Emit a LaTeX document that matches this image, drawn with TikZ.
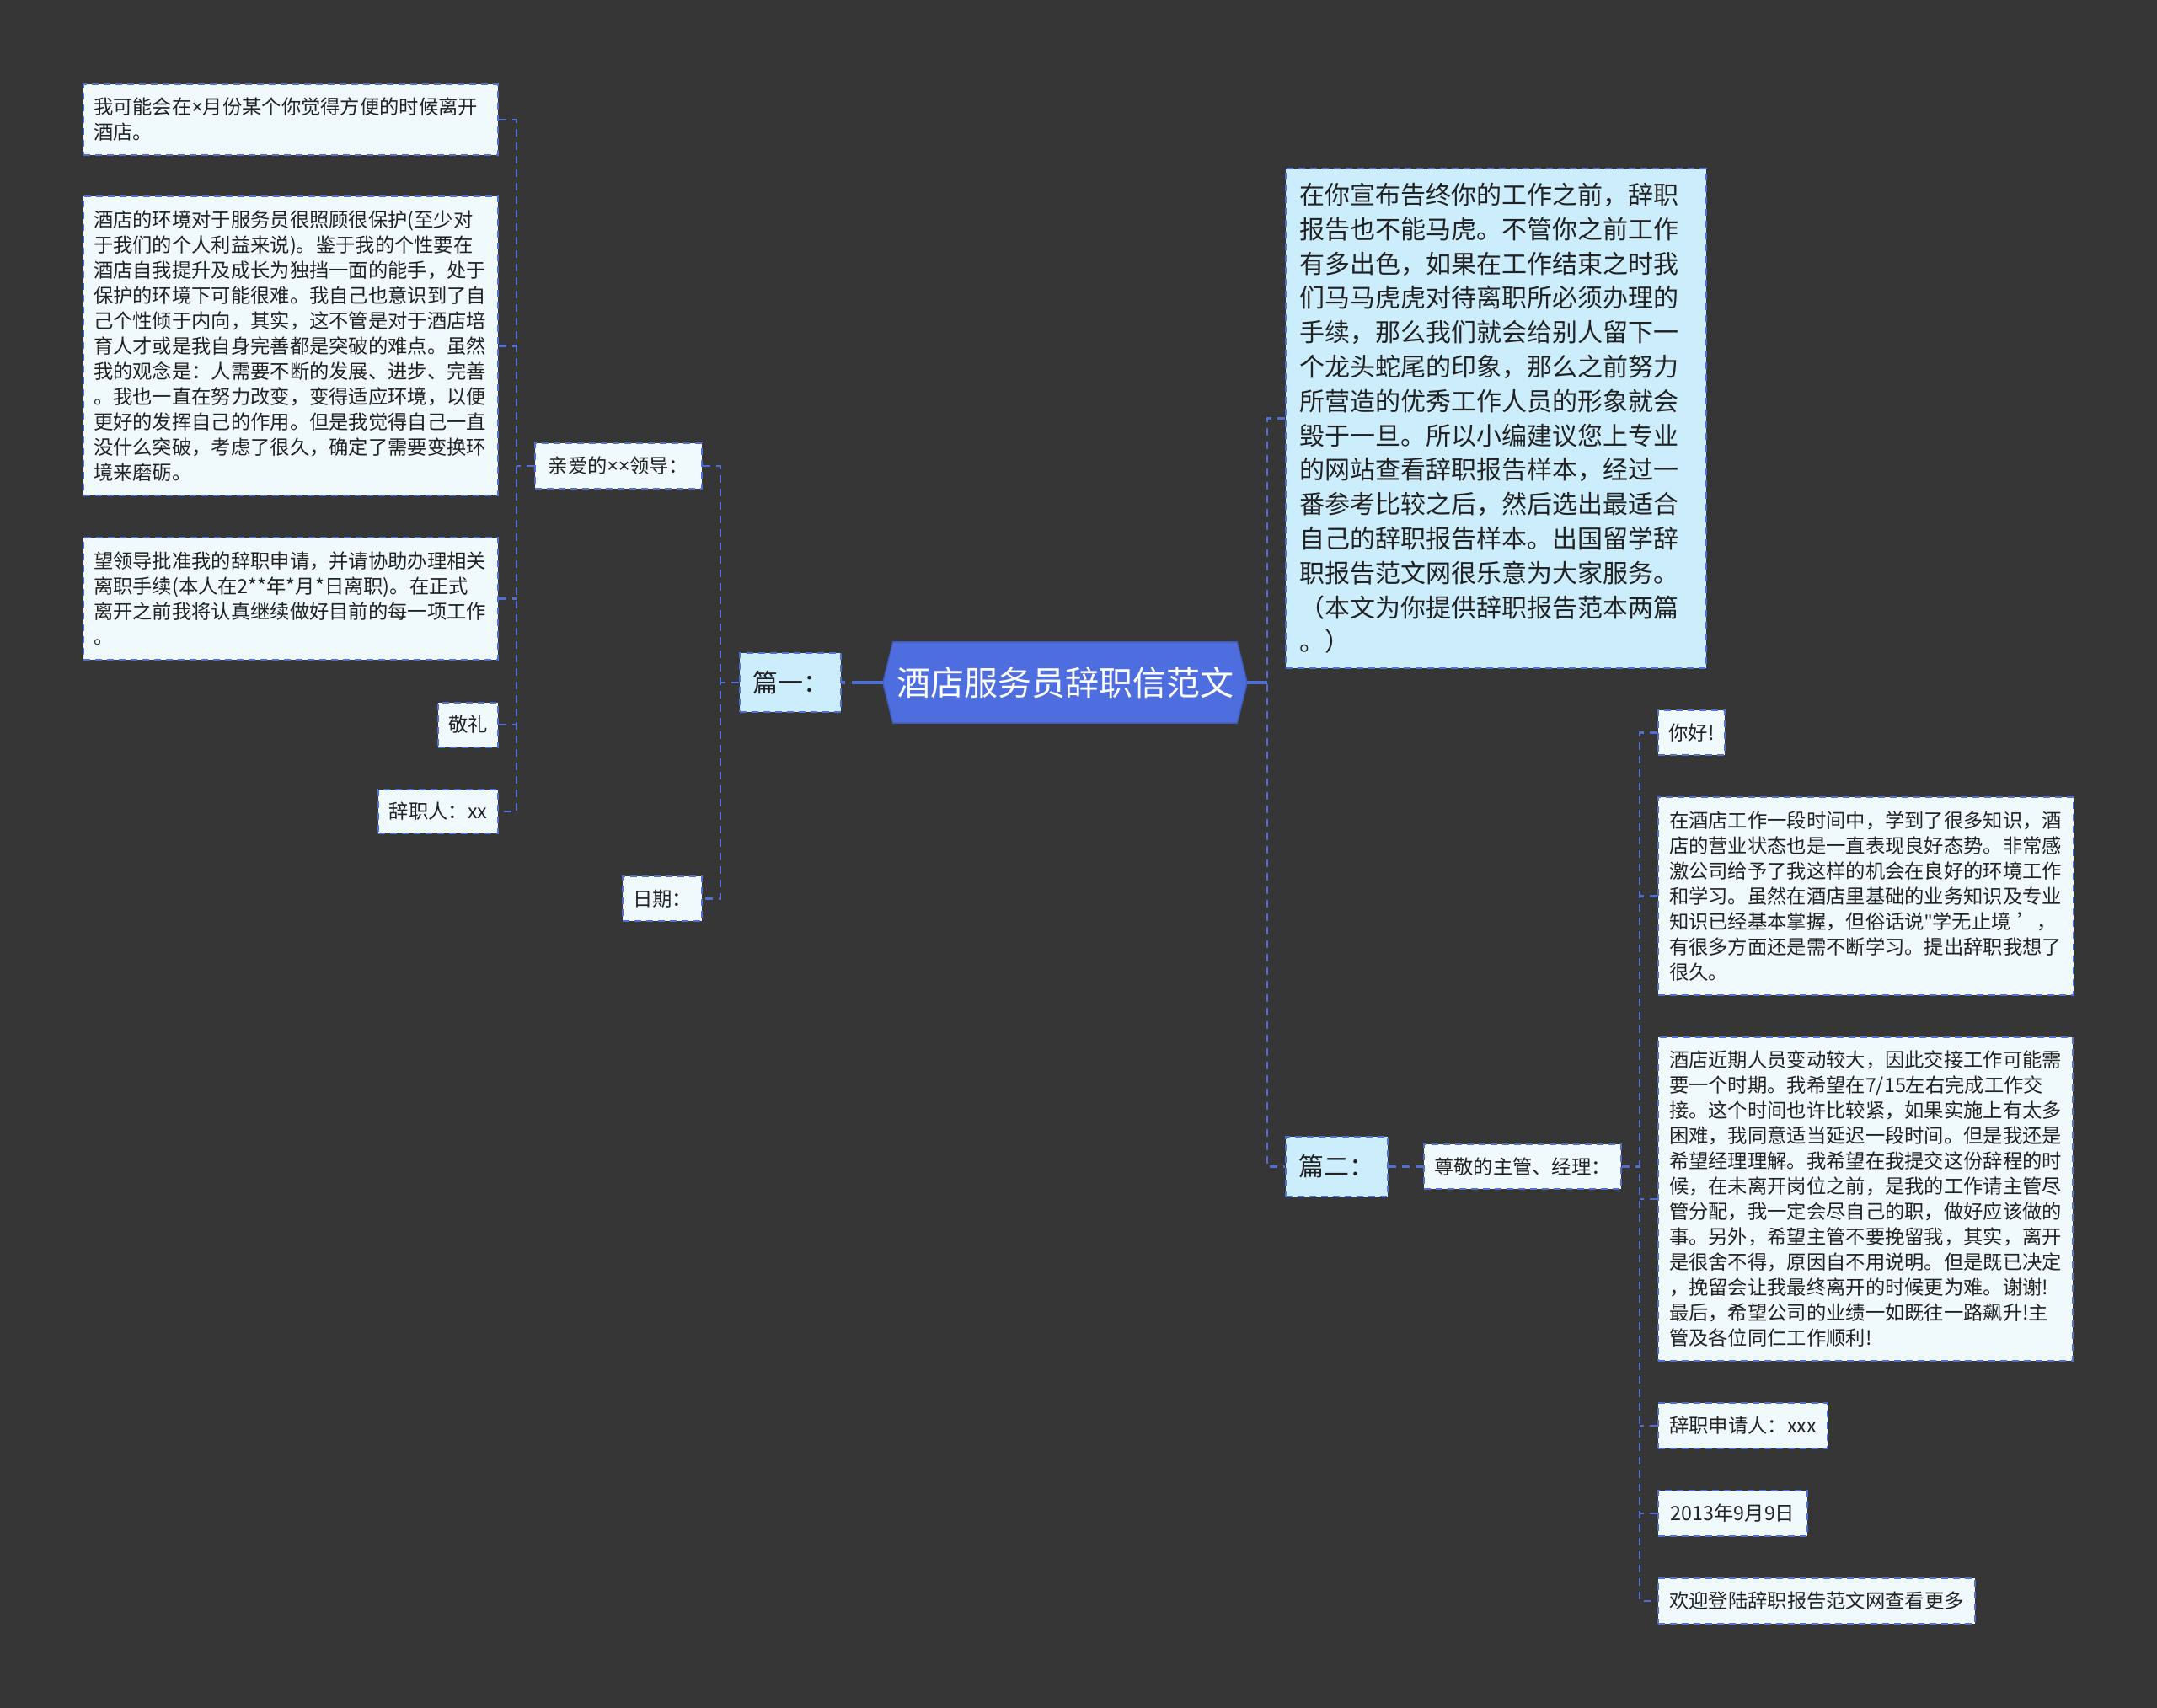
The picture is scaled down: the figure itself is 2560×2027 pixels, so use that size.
\documentclass[tikz,border=0pt]{standalone}
\usepackage{fontspec}
\setmainfont{Noto Sans CJK SC}
\newfontfamily\latinfont{Noto Sans}
\newcommand{\tms}{{\latinfont ×}}
\newcommand{\dqt}{{\latinfont\char34}}
\usetikzlibrary{calc}
\definecolor{bgc}{RGB}{55,54,55}
\definecolor{boxfill}{RGB}{240,250,253}
\definecolor{hifill}{RGB}{204,237,252}
\definecolor{linec}{RGB}{80,110,212}
\definecolor{rootfill}{RGB}{78,110,224}
\definecolor{txt}{RGB}{34,34,34}
\pgfdeclarelayer{bglayer}
\pgfsetlayers{bglayer,main}
\begin{document}
\begin{tikzpicture}[x=1pt,y=-1pt,
  box/.style={draw=linec, line width=2pt, dash pattern=on 8pt off 6pt, fill=boxfill, text=txt,
    inner xsep=12pt, inner ysep=0pt, font=\fontsize{23.3pt}{30pt}\selectfont},
  hibox/.style={box, fill=hifill},
  bigfont/.style={font=\fontsize{30pt}{40.8pt}\selectfont},
  conn/.style={draw=linec, line width=2.5pt, dash pattern=on 9pt off 7pt},
  rootconn/.style={draw=linec, line width=4pt, dash pattern=on 37pt off 8pt},
]
\begin{pgfonlayer}{bglayer}
\fill[bgc] (0,0) rectangle (2560,2027);
\end{pgfonlayer}
\useasboundingbox (0,0) rectangle (2560,2027);

% ---------- root ----------
\node[font=\fontsize{40pt}{48pt}\selectfont, text=white, minimum width=432pt, minimum height=96pt, inner sep=0pt] (root) at (1264,810) {酒店服务员辞职信范文};
\begin{pgfonlayer}{bglayer}
\filldraw[fill=rootfill, draw=rootfill!85!black, line width=1.5pt]
  ([xshift=12pt]root.north west) -- ([xshift=-12pt]root.north east) -- (root.east)
  -- ([xshift=-12pt]root.south east) -- ([xshift=12pt]root.south west) -- (root.west) -- cycle;
\end{pgfonlayer}

% ---------- left branch ----------
\node[hibox, bigfont, minimum width=120pt, minimum height=70pt] (p1) at (938,810) {篇一：};
\node[box, anchor=east, minimum width=198pt, minimum height=54pt] (q1) at (834,553) {亲爱的\tms\tms 领导：};
\node[box, anchor=east, minimum width=93pt, minimum height=53pt] (date1) at (834,1066.5) {日期：};

\node[box, anchor=east, minimum width=492pt, minimum height=84pt, text width=468pt, align=left] (a1) at (592,142)
  {我可能会在\tms 月份某个你觉得方便的时候离开\\酒店。};
\node[box, anchor=east, minimum width=492pt, minimum height=355pt, text width=468pt, align=left] (a2) at (592,410.5)
  {酒店的环境对于服务员很照顾很保护(至少对\\
   于我们的个人利益来说)。鉴于我的个性要在\\
   酒店自我提升及成长为独挡一面的能手，处于\\
   保护的环境下可能很难。我自己也意识到了自\\
   己个性倾于内向，其实，这不管是对于酒店培\\
   育人才或是我自身完善都是突破的难点。虽然\\
   我的观念是：人需要不断的发展、进步、完善\\
   。我也一直在努力改变，变得适应环境，以便\\
   更好的发挥自己的作用。但是我觉得自己一直\\
   没什么突破，考虑了很久，确定了需要变换环\\
   境来磨砺。};
\node[box, anchor=east, minimum width=492pt, minimum height=145pt, text width=468pt, align=left] (a3) at (592,710.5)
  {望领导批准我的辞职申请，并请协助办理相关\\
   离职手续(本人在2**年*月*日离职)。在正式\\
   离开之前我将认真继续做好目前的每一项工作\\
   。};
\node[box, anchor=east, minimum width=71pt, minimum height=53pt] (a4) at (592,860) {敬礼};
\node[box, anchor=east, minimum width=142pt, minimum height=52pt] (a5) at (592,963) {辞职人：xx};

% ---------- right branch ----------
\node[hibox, bigfont, inner xsep=16pt, minimum width=499pt, minimum height=593pt, text width=467pt, align=left] (tr) at (1775.5,496.5)
  {在你宣布告终你的工作之前，辞职\\
   报告也不能马虎。不管你之前工作\\
   有多出色，如果在工作结束之时我\\
   们马马虎虎对待离职所必须办理的\\
   手续，那么我们就会给别人留下一\\
   个龙头蛇尾的印象，那么之前努力\\
   所营造的优秀工作人员的形象就会\\
   毁于一旦。所以小编建议您上专业\\
   的网站查看辞职报告样本，经过一\\
   番参考比较之后，然后选出最适合\\
   自己的辞职报告样本。出国留学辞\\
   职报告范文网很乐意为大家服务。\\
   （本文为你提供辞职报告范本两篇\\
   。）};
\node[hibox, bigfont, minimum width=121pt, minimum height=71pt] (p2) at (1586.5,1384.5) {篇二：};
\node[box, minimum width=234pt, minimum height=53pt] (s1) at (1807,1384.5) {尊敬的主管、经理：};

\node[box, anchor=west, minimum width=79pt, minimum height=53pt] (b1) at (1967,869.5) {你好!};
\node[box, anchor=west, inner xsep=13pt, minimum width=493pt, minimum height=235pt, text width=467pt, align=left] (b2) at (1967,1063.5)
  {在酒店工作一段时间中，学到了很多知识，酒\\
   店的营业状态也是一直表现良好态势。非常感\\
   激公司给予了我这样的机会在良好的环境工作\\
   和学习。虽然在酒店里基础的业务知识及专业\\
   知识已经基本掌握，但俗话说\dqt 学无止境~’，\\
   有很多方面还是需不断学习。提出辞职我想了\\
   很久。};
\node[box, anchor=west, inner xsep=13pt, minimum width=492pt, minimum height=384pt, text width=466pt, align=left] (b3) at (1967,1423)
  {酒店近期人员变动较大，因此交接工作可能需\\
   要一个时期。我希望在7/15左右完成工作交\\
   接。这个时间也许比较紧，如果实施上有太多\\
   困难，我同意适当延迟一段时间。但是我还是\\
   希望经理理解。我希望在我提交这份辞程的时\\
   候，在未离开岗位之前，是我的工作请主管尽\\
   管分配，我一定会尽自己的职，做好应该做的\\
   事。另外，希望主管不要挽留我，其实，离开\\
   是很舍不得，原因自不用说明。但是既已决定\\
   ，挽留会让我最终离开的时候更为难。谢谢!\\
   最后，希望公司的业绩一如既往一路飙升!主\\
   管及各位同仁工作顺利!};
\node[box, anchor=west, minimum width=201pt, minimum height=54pt] (b4) at (1967,1692) {辞职申请人：xxx};
\node[box, anchor=west, minimum width=177pt, minimum height=54pt] (b5) at (1967,1796) {2013年9月9日};
\node[box, anchor=west, minimum width=376pt, minimum height=54pt] (b6) at (1967,1900) {欢迎登陆辞职报告范文网查看更多};

% ---------- junctions ----------
\coordinate (j0) at (613,553);
\coordinate (j1) at (855,810);
\coordinate (j2) at (1504,810);
\coordinate (j3) at (1946,1384.5);

% ---------- connectors ----------
\draw[rootconn] (root.west) -- (p1.east);
\draw[conn] (p1.west) -- (j1);
\draw[conn] (q1.east) -| (j1) |- (date1.east);
\draw[conn] (q1.west) -- (j0);
\draw[conn] (a1.east) -| (j0) |- (a5.east);
\draw[conn] (a2.east) -- (a2.east -| j0);
\draw[conn] (a3.east) -- (a3.east -| j0);
\draw[conn] (a4.east) -- (a4.east -| j0);

\draw[rootconn] (root.east) -- (j2);
\draw[conn] (tr.west) -| (j2) |- (p2.west);
\draw[conn] (p2.east) -- (s1.west);
\draw[conn] (s1.east) -- (j3);
\draw[conn] (b1.west) -| (j3) |- (b6.west);
\draw[conn] (b2.west) -- (b2.west -| j3);
\draw[conn] (b3.west) -- (b3.west -| j3);
\draw[conn] (b4.west) -- (b4.west -| j3);
\draw[conn] (b5.west) -- (b5.west -| j3);
\end{tikzpicture}
\end{document}
